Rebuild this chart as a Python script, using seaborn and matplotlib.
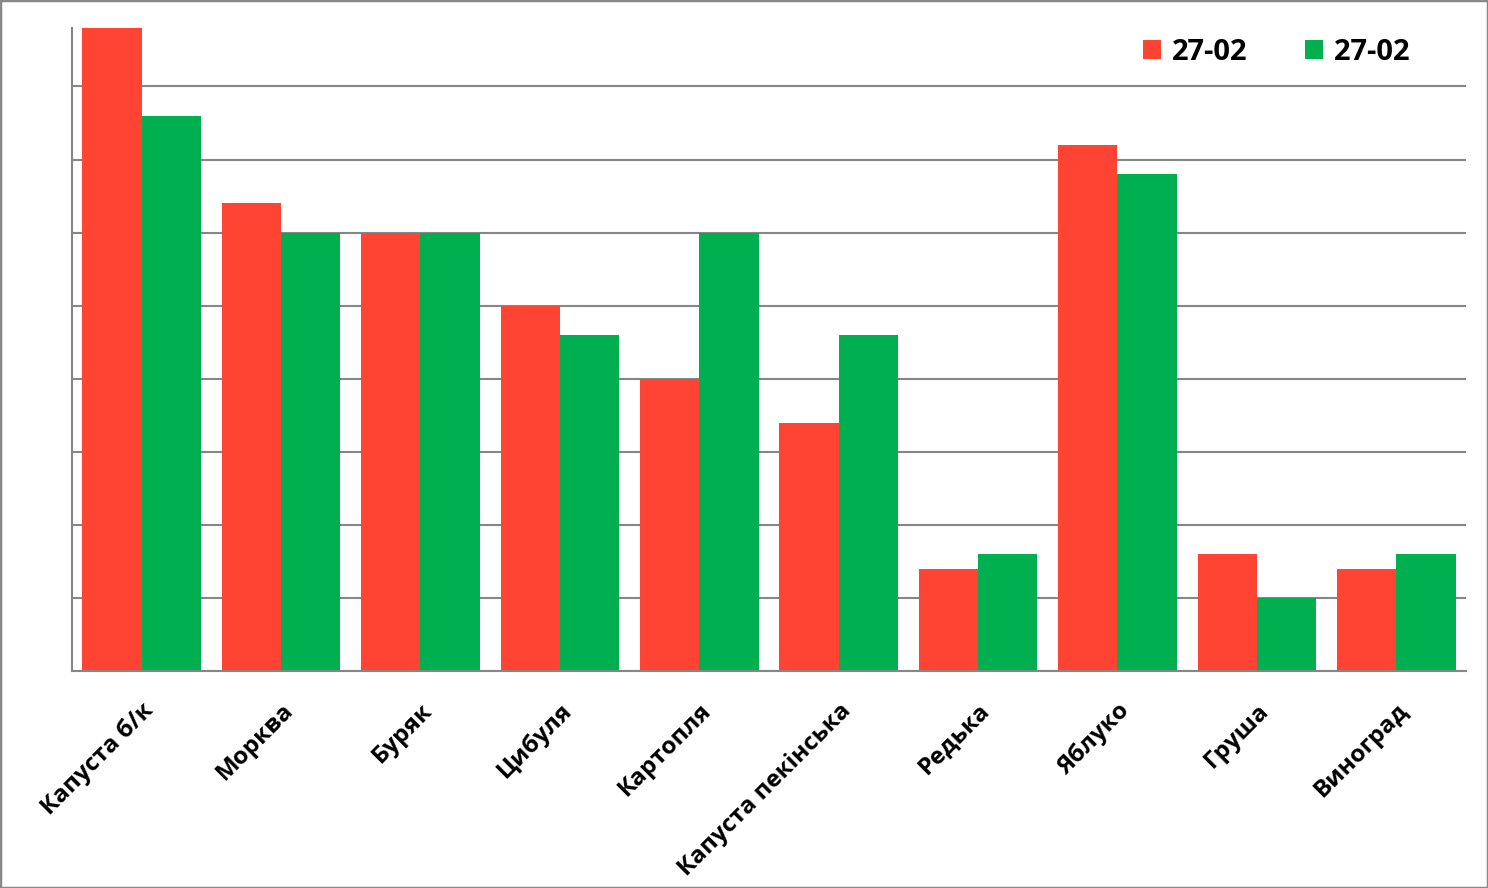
import matplotlib
matplotlib.use("Agg")
import matplotlib.pyplot as plt
import pandas as pd
import seaborn as sns
from matplotlib.patches import Rectangle

# Data (one grid step = 1 unit)
categories = ["Капуста б/к", "Морква", "Буряк", "Цибуля", "Картопля",
              "Капуста пекінська", "Редька", "Яблуко", "Груша", "Виноград"]
series_names = ["27-02", "27-02 "]
values_first = [8.8, 6.4, 6.0, 5.0, 4.0, 3.4, 1.4, 7.2, 1.6, 1.4]
values_second = [7.6, 6.0, 6.0, 4.6, 6.0, 4.6, 1.6, 6.8, 1.0, 1.6]
colors = ["#FF4433", "#00B050"]

df = pd.DataFrame({
    "category": categories * 2,
    "series": [series_names[0]] * len(categories) + [series_names[1]] * len(categories),
    "value": values_first + values_second,
})

sns.set_style("white")
plt.rcParams["font.family"] = ["Open Sans", "DejaVu Sans"]
plt.rcParams["font.weight"] = "bold"
plt.rcParams["text.color"] = "black"

grey = "#868686"

fig = plt.figure(figsize=(14.88, 8.88), dpi=100)
ax = fig.add_axes([72 / 1488, 1 - 671 / 888, (1466 - 72) / 1488, (671 - 28) / 888])

sns.barplot(data=df, x="category", y="value", hue="series", palette=colors,
            width=0.85, saturation=1, gap=0, ax=ax, linewidth=0)

ax.set_ylim(0, 8.8)
ax.set_xlim(-0.5, len(categories) - 0.5)
ax.set_yticks(range(0, 9))
ax.set_yticklabels([])
ax.tick_params(axis="y", length=0)
ax.yaxis.grid(True, color=grey, linewidth=1.5)
ax.set_axisbelow(True)

ax.set_xticks(range(len(categories)))
ax.set_xticklabels(categories, rotation=45, ha="right", rotation_mode="anchor",
                   fontsize=17.5, fontweight="bold", color="black")
ax.tick_params(axis="x", which="major", length=0, pad=20)
ax.set_xticks([i - 0.5 for i in range(len(categories) + 1)], minor=True)
ax.tick_params(axis="x", which="minor", length=6, width=1.5, color=grey, direction="out")

for side in ["top", "right"]:
    ax.spines[side].set_visible(False)
for side in ["left", "bottom"]:
    ax.spines[side].set_color(grey)
    ax.spines[side].set_linewidth(1.5)

ax.set_xlabel("")
ax.set_ylabel("")

leg = ax.legend(loc="center", bbox_to_anchor=(1280 / 1488, 1 - 52 / 888),
                bbox_transform=fig.transFigure, ncol=2, frameon=False,
                handlelength=0.62, handleheight=0.62, handletextpad=0.36,
                columnspacing=2.0, prop={"size": 21, "weight": "bold"})
for t in leg.get_texts():
    t.set_color("black")

fig.patches.append(Rectangle((0, 0), 1, 1, transform=fig.transFigure, fill=False,
                             edgecolor="#888888", linewidth=2.5))

fig.savefig("out.png", dpi=100)
